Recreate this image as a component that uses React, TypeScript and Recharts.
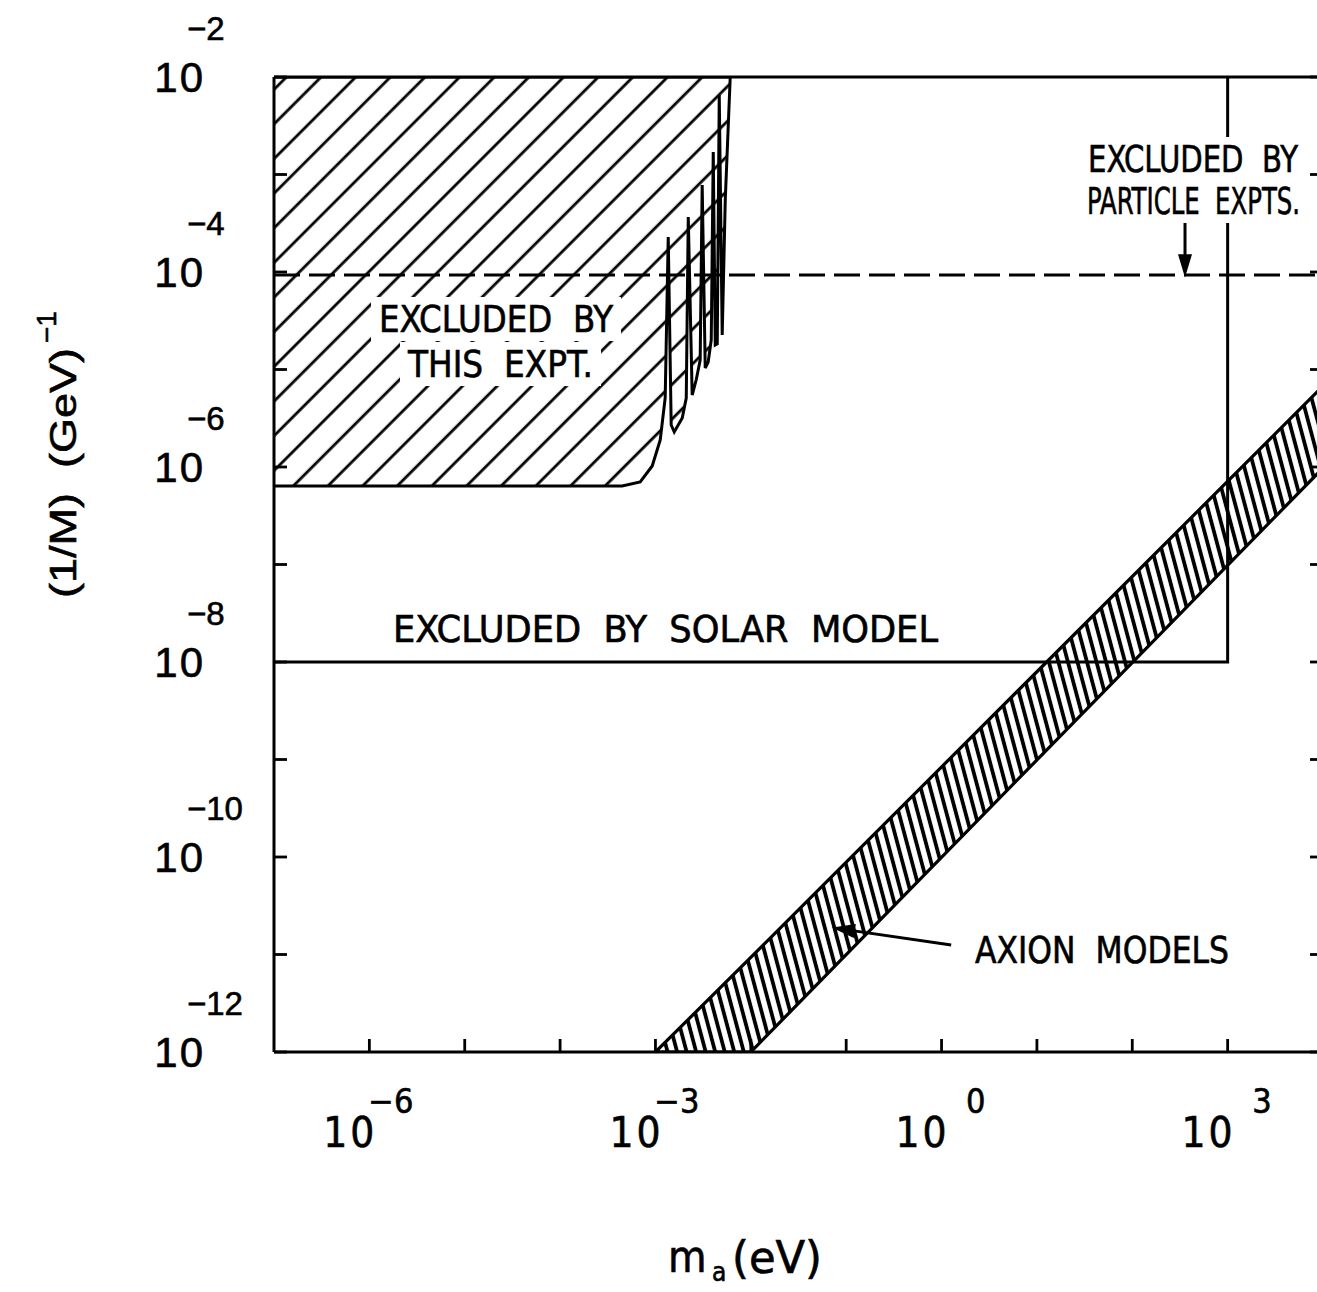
import React from 'react'
import { ComposedChart, Area, Line, XAxis, YAxis, ReferenceLine } from 'recharts'

// everything as log10 values (mass in eV, coupling 1/M in GeV^-1)
const limitMassExp = [
  -7, -3.349, -3.16, -3.034, -2.95, -2.898, -2.866, -2.835, -2.803, -2.719, -2.677, -2.656, -2.615,
  -2.573, -2.531, -2.51, -2.478, -2.447, -2.415, -2.394, -2.373, -2.352, -2.331, -2.3, -2.268, -2.216,
]
const limitCouplingExp = [
  -6.195, -6.195, -6.154, -5.99, -5.723, -5.292, -3.641, -5.569, -5.641, -5.497, -5.292, -3.436, -5.262,
  -5.108, -4.903, -3.108, -4.985, -4.923, -4.697, -2.769, -4.749, -4.738, -2.185, -4.646, -3.262, -2.0,
]

const solarMassExp = [-7, 3, 3]
const solarCouplingExp = [-8, -8, -2]

const particleMassExp = [-7, 4]
const particleCouplingExp = [-4.03, -4.03]

const axionMassExp = [-3, -2, 4]
const axionLowExp = [-12, -12, -6.01]
const axionHighExp = [-12, -11.03, -5.17]

const massTickExp = [-6, -5, -4, -3, -2, -1, 0, 1, 2, 3]
const massLabelExp = [-6, -3, 0, 3]
const couplingTickExp = [-12, -11, -10, -9, -8, -7, -6, -5, -4, -3, -2]
const couplingLabelExp = [-12, -10, -8, -6, -4, -2]

const massDomainExp = [-7, 4]
const couplingDomainExp = [-12, -2]

const p = (e: number) => Math.pow(10, e)

const limitData = limitMassExp.map((e, i) => ({ m: p(e), g: [p(limitCouplingExp[i]), p(couplingDomainExp[1])] }))
const solarData = solarMassExp.map((e, i) => ({ m: p(e), g: p(solarCouplingExp[i]) }))
const particleData = particleMassExp.map((e, i) => ({ m: p(e), g: p(particleCouplingExp[i]) }))
const axionData = axionMassExp.map((e, i) => ({ m: p(e), g: [p(axionLowExp[i]), p(axionHighExp[i])] }))

const SANS = "'Liberation Sans', Arial, sans-serif"
const NARROW = "'Liberation Sans Narrow', 'DejaVu Sans Condensed', 'Arial Narrow', sans-serif"

const expText = (e: number) => (e < 0 ? '\u2212' + -e : String(e))

function MassTick(props: any) {
  const { x, y, payload } = props
  const e = Math.round(Math.log10(payload.value))
  return (
    <g>
      <line x1={x} y1={y} x2={x} y2={y - 13} stroke="#000" strokeWidth={2.8} />
      {massLabelExp.includes(e) && (
        <g fontFamily={NARROW} fill="#000" stroke="#000" strokeWidth={0.6}>
          <text x={x + 8} y={y + 95} textAnchor="end" fontSize={42} letterSpacing={3}>10</text>
          <text x={x + 44} y={y + 61} textAnchor="end" fontSize={34}>{expText(e)}</text>
        </g>
      )}
    </g>
  )
}

function CouplingTick(props: any) {
  const { x, y, payload } = props
  const e = Math.round(Math.log10(payload.value))
  return (
    <g>
      <line x1={x} y1={y} x2={x + 13} y2={y} stroke="#000" strokeWidth={2.8} />
      {couplingLabelExp.includes(e) && (
        <g fontFamily={SANS} fill="#000" stroke="#000" strokeWidth={0.6}>
          <text x={x - 69} y={y + 15} textAnchor="end" fontSize={42} letterSpacing={2}>10</text>
          <text x={x - 87} y={y - 37} fontSize={33}>{expText(e)}</text>
        </g>
      )}
    </g>
  )
}

const TopTick = ({ x, y }: any) => <line x1={x} y1={y} x2={x} y2={y + 13} stroke="#000" strokeWidth={2.8} />
const RightTick = ({ x, y }: any) => <line x1={x} y1={y} x2={x - 13} y2={y} stroke="#000" strokeWidth={2.8} />

function Arrow(props: any) {
  const { x1, y1, x2, y2 } = props
  const len = Math.hypot(x2 - x1, y2 - y1)
  const ux = (x2 - x1) / len
  const uy = (y2 - y1) / len
  const hl = 20
  const hw = 6
  const bx = x2 - ux * hl
  const by = y2 - uy * hl
  return (
    <g>
      <line x1={x1} y1={y1} x2={bx} y2={by} stroke="#000" strokeWidth={3} />
      <path
        d={`M${x2},${y2} L${bx - uy * hw},${by + ux * hw} L${bx + uy * hw},${by - ux * hw} Z`}
        fill="#000"
        stroke="#000"
        strokeWidth={1.5}
      />
    </g>
  )
}

// label in the plot; "clear" blanks out the hatching / lines behind it like the original
function Note({ x, y, w, text, clear }: { x: number; y: number; w: number; text: string; clear?: boolean }) {
  return (
    <g>
      {clear && <rect x={x - 8} y={y - 35} width={w + 16} height={44} fill="#fff" />}
      <text
        x={x}
        y={y}
        textLength={w}
        lengthAdjust="spacingAndGlyphs"
        fontFamily={NARROW}
        fontSize={37}
        fill="#000"
        stroke="#000"
        strokeWidth={0.6}
        style={{ whiteSpace: 'pre' }}
      >
        {text}
      </text>
    </g>
  )
}

export default function App() {
  const massDomain = massDomainExp.map(p)
  const couplingDomain = couplingDomainExp.map(p)
  const axisLine = { stroke: '#000', strokeWidth: 3 }

  return (
    <div style={{ position: 'absolute', left: 0, top: 0, width: 1317, height: 1292, overflow: 'hidden', background: '#fff' }}>
      <ComposedChart width={1345} height={1292} margin={{ top: 67, right: 12, bottom: 210, left: 214 }}>
        <defs>
          <pattern id="hatchLimit" patternUnits="userSpaceOnUse" width={24.5} height={24.5} patternTransform="rotate(45)">
            <rect width={24.5} height={24.5} fill="#fff" />
            <line x1={12} y1={0} x2={12} y2={24.5} stroke="#000" strokeWidth={2.8} />
          </pattern>
          <pattern id="hatchAxion" patternUnits="userSpaceOnUse" width={9.2} height={9.2} patternTransform="rotate(-15)">
            <rect width={9.2} height={9.2} fill="#fff" />
            <line x1={4.6} y1={0} x2={4.6} y2={9.2} stroke="#000" strokeWidth={3.8} />
          </pattern>
        </defs>

        <XAxis
          type="number"
          dataKey="m"
          scale="log"
          domain={massDomain}
          allowDataOverflow
          ticks={massTickExp.map(p)}
          interval={0}
          tickSize={0}
          tickMargin={0}
          tickLine={false}
          axisLine={axisLine}
          height={30}
          tick={(t: any) => <MassTick {...t} />}
        />
        <XAxis
          xAxisId="top"
          orientation="top"
          type="number"
          scale="log"
          domain={massDomain}
          allowDataOverflow
          ticks={massTickExp.map(p)}
          interval={0}
          tickSize={0}
          tickMargin={0}
          tickLine={false}
          axisLine={axisLine}
          height={10}
          tick={(t: any) => <TopTick {...t} />}
        />
        <YAxis
          type="number"
          scale="log"
          domain={couplingDomain}
          allowDataOverflow
          ticks={couplingTickExp.map(p)}
          interval={0}
          tickSize={0}
          tickMargin={0}
          tickLine={false}
          axisLine={axisLine}
          width={60}
          tick={(t: any) => <CouplingTick {...t} />}
        />
        <YAxis
          yAxisId="right"
          orientation="right"
          type="number"
          scale="log"
          domain={couplingDomain}
          allowDataOverflow
          ticks={couplingTickExp.map(p)}
          interval={0}
          tickSize={0}
          tickMargin={0}
          tickLine={false}
          axisLine={axisLine}
          width={10}
          tick={(t: any) => <RightTick {...t} />}
        />

        <Area
          data={limitData}
          dataKey="g"
          type="linear"
          stroke="#000"
          strokeWidth={3}
          fill="url(#hatchLimit)"
          fillOpacity={1}
          dot={false}
          activeDot={false}
          isAnimationActive={false}
        />
        <Area
          data={axionData}
          dataKey="g"
          type="linear"
          stroke="#000"
          strokeWidth={3.2}
          fill="url(#hatchAxion)"
          fillOpacity={1}
          dot={false}
          activeDot={false}
          isAnimationActive={false}
        />
        <Line
          data={particleData}
          dataKey="g"
          type="linear"
          stroke="#000"
          strokeWidth={3}
          strokeDasharray="26 9"
          dot={false}
          activeDot={false}
          isAnimationActive={false}
        />
        <Line
          data={solarData}
          dataKey="g"
          type="linear"
          stroke="#000"
          strokeWidth={3}
          dot={false}
          activeDot={false}
          isAnimationActive={false}
        />
        <ReferenceLine
          segment={[{ x: p(2.553), y: p(-3.49) }, { x: p(2.553), y: p(-4.03) }]}
          ifOverflow="visible"
          shape={(s: any) => <Arrow {...s} />}
        />
        <ReferenceLine
          segment={[{ x: p(0.101), y: p(-10.903) }, { x: p(-1.125), y: p(-10.728) }]}
          ifOverflow="visible"
          shape={(s: any) => <Arrow {...s} />}
        />
      </ComposedChart>

      <svg width={1317} height={1292} style={{ position: 'absolute', left: 0, top: 0, pointerEvents: 'none' }}>
        <Note x={379} y={332} w={234} text="EXCLUDED  BY" clear />
        <Note x={408} y={377} w={185} text="THIS  EXPT." clear />
        <Note x={1088} y={172} w={210} text="EXCLUDED  BY" clear />
        <Note x={1087} y={214} w={213} text="PARTICLE  EXPTS." clear />
        <Note x={393} y={642} w={545} text="EXCLUDED  BY  SOLAR  MODEL" />
        <Note x={975} y={963} w={254} text="AXION  MODELS" />

        <g fill="#000" stroke="#000" strokeWidth={0.6}>
          <text
            x={76}
            y={598}
            transform="rotate(-90 76 598)"
            fontFamily={SANS}
            fontSize={36}
            textLength={250}
            lengthAdjust="spacingAndGlyphs"
            style={{ whiteSpace: 'pre' }}
          >
            (1/M)  (GeV)
          </text>
          <text x={56} y={343} transform="rotate(-90 56 343)" fontFamily={SANS} fontSize={28}>
            {'\u22121'}
          </text>

          <g fontFamily={NARROW}>
            <text x={668} y={1272} fontSize={44}>m</text>
            <text x={712} y={1281} fontSize={26}>a</text>
            <text x={732} y={1273} fontSize={44} textLength={90} lengthAdjust="spacingAndGlyphs">(eV)</text>
          </g>
        </g>
      </svg>
    </div>
  )
}
